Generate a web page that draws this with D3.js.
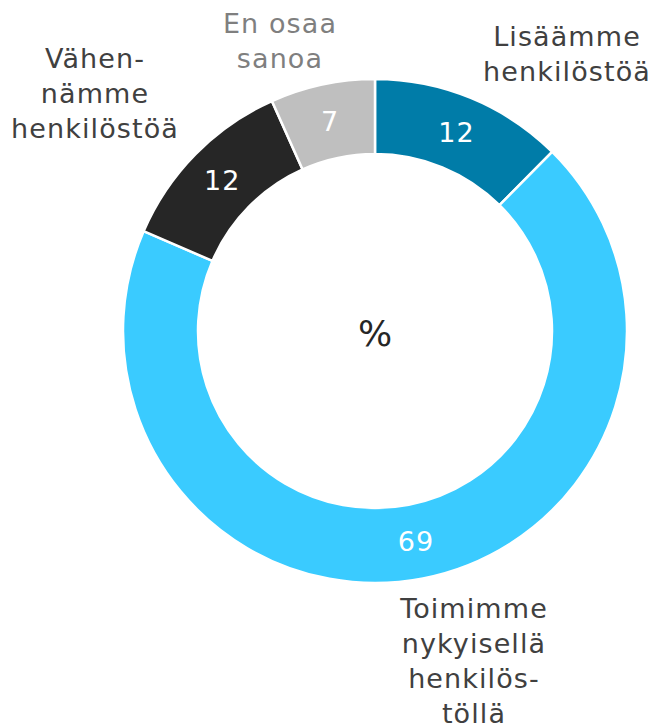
<!DOCTYPE html>
<html><head><meta charset="utf-8">
<script src="https://cdn.jsdelivr.net/npm/d3@7"></script>
<style>
html,body{margin:0;padding:0;background:#fff;}
svg{display:block;font-family:"DejaVu Sans",Verdana,sans-serif;}
</style></head>
<body><svg id="c" width="656" height="726"></svg>
<script>
const categories = ["Lisäämme henkilöstöä","Toimimme nykyisellä henkilöstöllä","Vähennämme henkilöstöä","En osaa sanoa"];
const values = [12.4, 69.0, 11.8, 6.7];
const colors = ["#007CA8", "#3ACBFF", "#262626", "#BFBFBF"];
const labelLines = [["Lisäämme","henkilöstöä"],["Toimimme","nykyisellä","henkilös-","töllä"],["Vähen-","nämme","henkilöstöä"],["En osaa","sanoa"]];
const labelColors = ["#404040","#404040","#404040","#7F7F7F"];

const svg = d3.select("#c");
const cx = 375, cy = 331, rO = 252, rI = 177;
const g = svg.append("g").attr("transform", `translate(${cx},${cy})`);
const pie = d3.pie().sort(null).value(d => d)(values);
const arc = d3.arc().innerRadius(rI).outerRadius(rO);
g.selectAll("path").data(pie).join("path")
  .attr("d", arc).attr("fill", (d,i) => colors[i])
  .attr("stroke", "#fff").attr("stroke-width", 2.5);

const fs = 27;
const fmt = d3.format(".0f");
g.selectAll("text.v").data(pie).join("text").attr("class","v")
  .attr("transform", d => { const [x,y] = arc.centroid(d); return `translate(${x},${y})`; })
  .attr("text-anchor","middle").attr("dy","0.36em")
  .attr("fill","#fff").attr("font-size", fs).attr("letter-spacing", 1)
  .text(d => fmt(d.data));

g.append("text").attr("text-anchor","middle").attr("dy","0.36em").attr("y", 2)
  .attr("fill","#262626").attr("font-size", 36).text("%");

// outside label anchors (centre x, first baseline y) in page pixels
const labelPos = [[567, 46], [474, 618], [95, 68], [280, 33]];
const lh = 35;
labelLines.forEach((lines, i) => {
  const t = svg.append("text").attr("text-anchor","middle")
    .attr("fill", labelColors[i]).attr("font-size", fs).attr("letter-spacing", 1.1);
  lines.forEach((s, k) => {
    t.append("tspan").attr("x", labelPos[i][0]).attr("y", labelPos[i][1] + k*lh).text(s);
  });
});
</script></body></html>
